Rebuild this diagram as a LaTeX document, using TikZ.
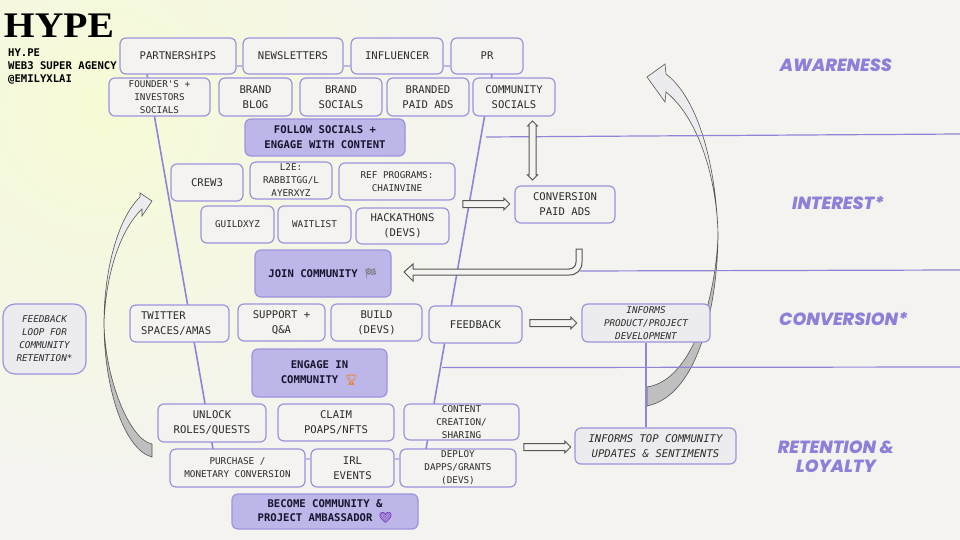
\documentclass[tikz,border=0pt]{standalone}
\usepackage{fontspec}
\setmonofont{DejaVu Sans Mono}
\newfontfamily\stagefont[BoldItalicFont={Poppins ExtraBold Italic}]{Poppins}
\newfontfamily\emojifont{Noto Emoji}
\setmainfont{Liberation Serif}
\usetikzlibrary{shapes.arrows}
\definecolor{paper}{HTML}{F4F3F0}
\definecolor{glow}{HTML}{F6FBD5}
\definecolor{funnel}{HTML}{8F85D8}
\definecolor{edgeline}{HTML}{9C93DE}
\definecolor{lilac}{HTML}{BDB6E8}
\definecolor{softgray}{HTML}{ECECEE}
\definecolor{ink}{HTML}{2B2B2B}
\definecolor{deep}{HTML}{14142E}
\definecolor{stage}{HTML}{8D80D8}
\definecolor{ribbon}{HTML}{555555}
\newcommand{\bigtxt}{\ttfamily\fontsize{10.6}{14.8}\selectfont}
\newcommand{\smalltxt}{\ttfamily\fontsize{9.3}{13}\selectfont}
\newcommand{\emo}[2]{\textcolor{#1}{{\emojifont #2}}}

\begin{document}
\begin{tikzpicture}[x=1pt,y=-1pt,node distance=100pt,
box/.style={draw=edgeline,fill=paper,rounded corners=6pt,align=center,inner sep=0,text=ink,font=\bigtxt,minimum height=37pt,line width=1.2pt},
tiny/.style={box,font=\smalltxt},
goal/.style={box,fill=lilac,text=deep,font=\bigtxt\bfseries},
note/.style={box,fill=softgray,font=\bigtxt\itshape},
tinynote/.style={note,font=\smalltxt\itshape},
link/.style={draw=funnel,line width=1.6pt},
joint/.style={draw=lilac,line width=2.2pt},
rule/.style={draw=funnel,line width=1.2pt},
stagename/.style={text=stage,align=center,inner sep=0,font=\stagefont\fontsize{17.6}{19}\selectfont\bfseries\itshape},
hollow/.style={draw=ribbon,fill=paper,single arrow,single arrow head extend=2.5pt,minimum width=11pt,inner sep=3pt,line width=1pt},
twist/.style={draw=ribbon,line width=.6pt}]

\useasboundingbox (0,0) rectangle (960,540);
\fill[paper] (0,0) rectangle (960,540);
\begin{scope}
\clip (0,0) rectangle (960,540);
\shade[inner color=glow,outer color=paper] (100,110) circle (380);
\end{scope}

% curved arrows
\fill[softgray,twist] (666,74) -- (665,64) -- (647,77) -- (665,102) -- (666,92) .. controls (695,115) and (716,170) .. (718,233) .. controls (716,170) and (700,100) .. (666,74) -- cycle;
\fill[black!25,twist] (718,233) .. controls (718,300) and (700,395) .. (647,406) -- (647,387) .. controls (695,380) and (717,290) .. (718,233) -- cycle;
\fill[softgray,twist] (140,197) -- (140,193) -- (152,201) -- (142,216) -- (142,209) .. controls (122,228) and (106,270) .. (104,323) .. controls (104,270) and (118,218) .. (140,197) -- cycle;
\fill[black!25,twist] (104,323) .. controls (104,390) and (125,450) .. (152,457) -- (152,444) .. controls (130,440) and (105,380) .. (104,323) -- cycle;

% funnel and stage rules
\coordinate (fl1) at (147,74);
\coordinate (fl2) at (213,449);
\coordinate (fr1) at (492,74);
\coordinate (fr2) at (426,449);
\draw[link] (fl1) -- (fl2);
\draw[link] (fr1) -- (fr2);
\coordinate (s1) at (486,137);
\coordinate (s2) at (960,134);
\coordinate (s3) at (580,271);
\coordinate (s4) at (960,270);
\coordinate (s5) at (442,367.6);
\coordinate (s6) at (960,367);
\draw[rule] (s1) -- (s2);
\draw[rule] (s3) -- (s4);
\draw[rule] (s5) -- (s6);

% Nodes
\node[box,minimum width=116pt,minimum height=36pt] (a1) at (178,56) {PARTNERSHIPS};
\node[box,right of = a1,xshift=15pt,minimum width=100pt,minimum height=36pt] (a2) {NEWSLETTERS};
\node[box,right of = a2,xshift=4pt,minimum width=92pt,minimum height=36pt] (a3) {INFLUENCER};
\node[box,right of = a3,xshift=-10pt,minimum width=72pt,minimum height=36pt] (a4) {PR};
\node[tiny,below of = a1,xshift=-18.5pt,yshift=59pt,minimum width=101pt,minimum height=38pt] (a5) {FOUNDER'S +\\INVESTORS\\SOCIALS};
\node[box,right of = a5,xshift=-4pt,minimum width=73pt,minimum height=38pt] (a6) {BRAND\\BLOG};
\node[box,right of = a6,xshift=-14.5pt,minimum width=82pt,minimum height=38pt] (a7) {BRAND\\SOCIALS};
\node[box,right of = a7,xshift=-13pt,minimum width=82pt,minimum height=38pt] (a8) {BRANDED\\PAID ADS};
\node[box,right of = a8,xshift=-14pt,minimum width=82pt,minimum height=38pt] (a9) {COMMUNITY\\SOCIALS};
\node[goal,below of = a7,xshift=-16pt,yshift=59.5pt,minimum width=160pt] (a10) {FOLLOW SOCIALS +\\ENGAGE WITH CONTENT};
\node[box,below of = a6,xshift=-48.5pt,yshift=14.5pt,minimum width=72pt] (i1) {CREW3};
\node[tiny,right of = i1,xshift=-16pt,yshift=2pt,minimum width=82pt] (i2) {L2E:\\RABBITGG/L\\AYERXYZ};
\node[tiny,right of = i2,xshift=6pt,yshift=-1pt,minimum width=116pt] (i3) {REF PROGRAMS:\\CHAINVINE};
\node[tiny,below of = i1,xshift=30.5pt,yshift=58pt,minimum width=73pt] (i4) {GUILDXYZ};
\node[tiny,right of = i4,xshift=-23pt,minimum width=73pt] (i5) {WAITLIST};
\node[box,right of = i5,xshift=-12pt,yshift=-1.5pt,minimum width=93pt,minimum height=36pt] (i6) {HACKATHONS\\(DEVS)};
\node[goal,below of = i5,xshift=8.5pt,yshift=51pt,minimum width=136pt,minimum height=47pt] (i7) {JOIN COMMUNITY \emo{black!55}{🏁}};
\node[box,right of = i3,xshift=68pt,yshift=-23pt,minimum width=100pt] (i8) {CONVERSION\\PAID ADS};
\node[box,below of = i4,xshift=-58pt,yshift=1pt,minimum width=99pt,text width=77pt,inner xsep=11pt,align=left] (c1) {TWITTER\\SPACES/AMAS};
\node[box,right of = c1,xshift=2pt,yshift=1pt,minimum width=87pt] (c2) {SUPPORT +\\Q\&A};
\node[box,right of = c2,xshift=-5pt,minimum width=91pt] (c3) {BUILD\\(DEVS)};
\node[box,right of = c3,xshift=-1pt,yshift=-2pt,minimum width=93pt] (c4) {FEEDBACK};
\node[tinynote,right of = c4,xshift=70.5pt,yshift=1.5pt,minimum width=128pt,minimum height=38pt] (c5) {INFORMS\\PRODUCT/PROJECT\\DEVELOPMENT};
\node[goal,below of = c2,xshift=38pt,yshift=49.5pt,minimum width=135pt,minimum height=48pt] (c6) {ENGAGE IN\\COMMUNITY \emo{orange!70!brown}{🏆}};
\node[box,below of = c1,xshift=32.5pt,yshift=.5pt,minimum width=108pt,minimum height=38pt] (r1) {UNLOCK\\ROLES/QUESTS};
\node[box,right of = r1,xshift=24pt,yshift=.5pt,minimum width=116pt] (r2) {CLAIM\\POAPS/NFTS};
\node[tiny,right of = r2,xshift=25.5pt,yshift=.5pt,minimum width=115pt,minimum height=36pt] (r3) {CONTENT\\CREATION/\\SHARING};
\node[tiny,below of = r1,xshift=25.5pt,yshift=55pt,minimum width=135pt,minimum height=38pt] (r4) {PURCHASE /\\MONETARY CONVERSION};
\node[box,right of = r4,xshift=15pt,minimum width=83pt,minimum height=38pt] (r5) {IRL\\EVENTS};
\node[tiny,right of = r5,xshift=5.5pt,minimum width=116pt,minimum height=38pt] (r6) {DEPLOY\\DAPPS/GRANTS\\(DEVS)};
\node[goal,below of = r5,xshift=-27.5pt,yshift=56.5pt,minimum width=186pt,minimum height=35pt] (r7) {BECOME COMMUNITY \&\\PROJECT AMBASSADOR \emo{violet!70!blue}{💜}};
\node[note,below of = c5,xshift=9.5pt,yshift=-23pt,minimum width=161pt,minimum height=36pt] (r8) {INFORMS TOP COMMUNITY\\UPDATES \& SENTIMENTS};
\node[tinynote,minimum width=83pt,minimum height=70pt,rounded corners=12pt] (l1) at (44.5,339) {FEEDBACK\\LOOP FOR\\COMMUNITY\\RETENTION*};

% logo and stage names
\node[anchor=base,inner sep=0,font=\rmfamily\bfseries\fontsize{36}{36}\selectfont,text=black] (logo) at (59,38) {\scalebox{1.1}[1]{HYPE}};
\node[anchor=west,align=left,inner sep=0,text=black,font=\ttfamily\bfseries\fontsize{10.6}{13}\selectfont] (brand) at (8,66) {HY.PE\\WEB3 SUPER AGENCY\\@EMILYXLAI};
\node[stagename] (t1) at (836,65) {AWARENESS};
\node[stagename] (t2) at (838,203) {INTEREST*};
\node[stagename] (t3) at (843.5,319) {CONVERSION*};
\node[stagename] (t4) at (836,456.5) {RETENTION \&\\LOYALTY};

%arcs
\path (a1.east) ++(0,10) coordinate (j1);
\path (a2.west) ++(0,10) coordinate (j2);
\path (a2.east) ++(0,10) coordinate (j3);
\path (a3.west) ++(0,10) coordinate (j4);
\path (a3.east) ++(0,10) coordinate (j5);
\path (a4.west) ++(0,10) coordinate (j6);
\path (r4.east) ++(0,-9) coordinate (j7);
\path (r5.west) ++(0,-9) coordinate (j8);
\path (r5.east) ++(0,-9) coordinate (j9);
\path (r6.west) ++(0,-9) coordinate (j10);
\draw[joint] (j1) -- (j2);
\draw[joint] (j3) -- (j4);
\draw[joint] (j5) -- (j6);
\draw[joint] (j7) -- (j8);
\draw[joint] (j9) -- (j10);
\draw[link] (c5.south) -- (c5.south |- r8.north);

% hollow arrows
\node[hollow,minimum height=47pt] (h1) at (484.5,204) {};
\node[hollow,minimum height=47pt] (h2) at (551.5,323) {};
\node[hollow,minimum height=47pt] (h3) at (545.5,447) {};
\node[draw=ribbon,fill=paper,double arrow,double arrow head extend=1.5pt,minimum width=9pt,minimum height=59pt,inner sep=3pt,line width=1pt,shape border rotate=90] (h4) at (532.5,150.5) {};
\draw[draw=ribbon,fill=paper,line width=1pt] (576,249) -- (582,249) -- (582,262) .. controls (582,270) and (577,275) .. (569,275) -- (413,275) -- (413,281) -- (404,272) -- (413,264) -- (413,269) -- (569,269) .. controls (573,269) and (576,266) .. (576,262) -- cycle;

\end{tikzpicture}
\end{document}
